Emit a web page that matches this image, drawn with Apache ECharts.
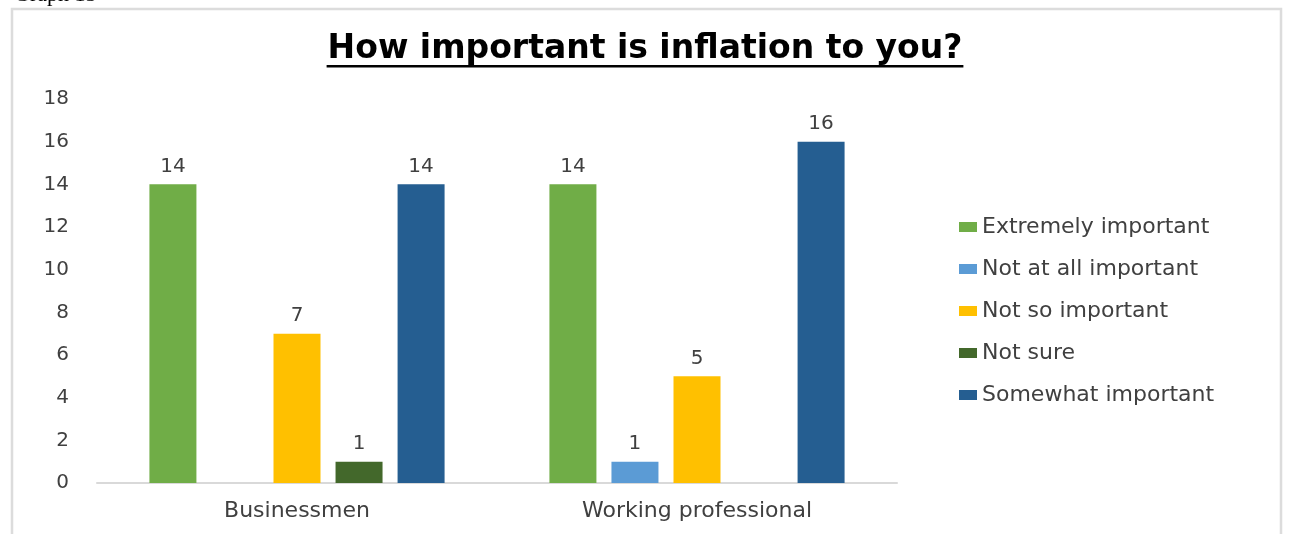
<!DOCTYPE html>
<html>
<head>
<meta charset="utf-8">
<script src="https://cdn.jsdelivr.net/npm/echarts@6/dist/echarts.min.js"></script>
<style>
  html, body { margin: 0; padding: 0; background: #fff; }
  #chart { width: 1290px; height: 534px; }
</style>
</head>
<body>
<div id="chart"></div>
<script>
// Survey groups on the category axis
const categories = ['Businessmen', 'Working professional'];

// Responses per group (null = no bar in that group)
const extremelyImportant = [14, 14];
const notAtAllImportant  = [null, 1];
const notSoImportant     = [7, 5];
const notSure            = [1, null];
const somewhatImportant  = [14, 16];

const seriesNames = [
  'Extremely important',
  'Not at all important',
  'Not so important',
  'Not sure',
  'Somewhat important'
];
const seriesValues = [extremelyImportant, notAtAllImportant, notSoImportant, notSure, somewhatImportant];
const seriesColors = ['#70ad47', '#5b9bd5', '#ffc000', '#43682b', '#255e91'];

// Value axis range
const yMin = 0, yMax = 18, yStep = 2;

const font = 'DejaVu Sans';
const titleText = 'How important is inflation to you?';
const titleSize = 33;

const W = 1290;
const chart = echarts.init(document.getElementById('chart'), null, { renderer: 'canvas' });

// width of the title, so the underline spans exactly the text
const measureCtx = document.createElement('canvas').getContext('2d');
measureCtx.font = 'bold ' + titleSize + 'px "' + font + '"';
const titleWidth = measureCtx.measureText(titleText).width;
const underlineLeft = (W - titleWidth) / 2 - 1;

chart.setOption({
  backgroundColor: '#ffffff',
  animation: false,
  title: {
    text: titleText,
    left: 'center',
    top: 28,
    textStyle: { fontFamily: font, fontWeight: 'bold', fontSize: titleSize, color: '#000000' }
  },
  graphic: [
    // outer frame of the chart area
    { type: 'rect', z: -1, silent: true,
      shape: { x: 12, y: 9, width: 1269, height: 600 },
      style: { fill: null, stroke: '#dcdcdc', lineWidth: 2.5 } },
    // underline under the title
    { type: 'rect', silent: true,
      shape: { x: underlineLeft, y: 65, width: titleWidth + 2, height: 2.5 },
      style: { fill: '#000000' } },
    // caption above the frame
    { type: 'text', silent: true, left: 14, top: -16,
      style: { text: 'Graph 15', font: '22px "Liberation Serif"', fill: '#000000' } }
  ],
  legend: {
    orient: 'vertical',
    left: 954,
    top: 211,
    itemWidth: 18,
    itemHeight: 10,
    itemGap: 20,
    itemTextGap: 7,
    icon: 'rect',
    data: seriesNames,
    textStyle: { fontFamily: font, fontSize: 22, lineHeight: 22, color: '#404040' }
  },
  grid: { left: 97, right: 393, top: 99, bottom: 51, containLabel: false },
  xAxis: {
    type: 'category',
    data: categories,
    axisLine: { lineStyle: { color: '#d9d9d9', width: 2 } },
    axisTick: { show: false },
    axisLabel: { fontFamily: font, fontSize: 22, color: '#404040', margin: 17 }
  },
  yAxis: {
    type: 'value',
    min: yMin, max: yMax, interval: yStep,
    axisLine: { show: false },
    axisTick: { show: false },
    splitLine: { show: false },
    axisLabel: { fontFamily: font, fontSize: 20, color: '#404040', margin: 28 }
  },
  series: seriesNames.map((name, i) => ({
    name: name,
    type: 'bar',
    data: seriesValues[i],
    barWidth: 47,
    barGap: '32%',
    itemStyle: { color: seriesColors[i] },
    label: {
      show: true,
      position: 'top',
      distance: 8,
      fontFamily: font,
      fontSize: 20,
      color: '#404040'
    }
  }))
});
</script>
</body>
</html>
